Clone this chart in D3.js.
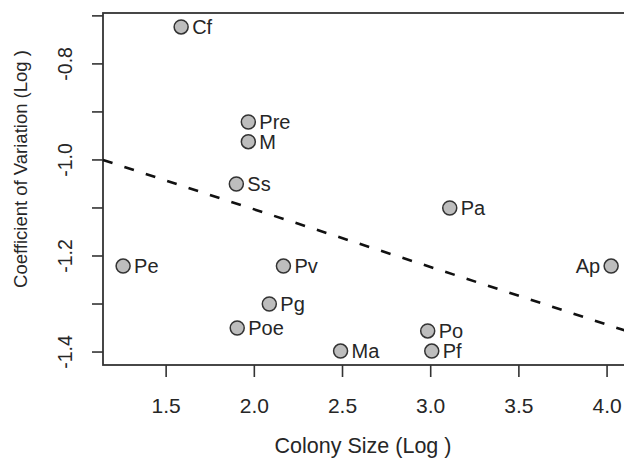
<!DOCTYPE html>
<html>
<head>
<meta charset="utf-8">
<script src="https://cdn.jsdelivr.net/npm/d3@7"></script>
<style>
  body { margin: 0; background: #fff; }
  text { font-family: "Liberation Sans", Arial, sans-serif; fill: #262626; }
</style>
</head>
<body>
<svg id="chart"></svg>
<script>
// species codes, log colony size, log coefficient of variation
const species    = ["Cf", "Pre", "M", "Ss", "Pe", "Pv", "Pg", "Poe", "Pa", "Ap", "Po", "Pf", "Ma"];
const colonySize = [1.585, 1.966, 1.966, 1.898, 1.256, 2.165, 2.085, 1.903, 3.108, 4.023, 2.983, 3.006, 2.489];
const cvLog      = [-0.723, -0.921, -0.962, -1.050, -1.221, -1.221, -1.300, -1.350, -1.100, -1.221, -1.356, -1.398, -1.398];
const labelLeft  = ["Ap"]; // labels placed on the left of the point

// fitted line (dashed)
const fitIntercept = -0.863;
const fitSlope = -0.12;

const xTicks = [1.5, 2.0, 2.5, 3.0, 3.5, 4.0];
const yTicks = [-1.4, -1.3, -1.2, -1.1, -1.0, -0.9, -0.8, -0.7];
const yTickLabels = [-1.4, -1.2, -1.0, -0.8];

const width = 624, height = 462;
const svg = d3.select("#chart").attr("width", width).attr("height", height);

// plot region runs off the right edge of the picture
const x = d3.scaleLinear().domain([1.142, 4.13]).range([103, 630]);
const y = d3.scaleLinear().domain([-1.427, -0.694]).range([365, 13]);

const axisColor = "#333";

// frame
svg.append("rect")
  .attr("x", x.range()[0]).attr("y", y.range()[1])
  .attr("width", x.range()[1] - x.range()[0])
  .attr("height", y.range()[0] - y.range()[1])
  .attr("fill", "none").attr("stroke", axisColor).attr("stroke-width", 1.8);

// x axis ticks + labels
const xAxis = svg.append("g");
xAxis.selectAll("line").data(xTicks).enter().append("line")
  .attr("x1", d => x(d)).attr("x2", d => x(d))
  .attr("y1", y.range()[0]).attr("y2", y.range()[0] + 12)
  .attr("stroke", axisColor).attr("stroke-width", 1.6);
xAxis.selectAll("text").data(xTicks).enter().append("text")
  .attr("x", d => x(d)).attr("y", 413)
  .attr("text-anchor", "middle").style("font-size", "21px")
  .text(d => d.toFixed(1));

// y axis ticks + labels
const yAxis = svg.append("g");
yAxis.selectAll("line").data(yTicks).enter().append("line")
  .attr("x1", x.range()[0] - 11).attr("x2", x.range()[0])
  .attr("y1", d => y(d)).attr("y2", d => y(d))
  .attr("stroke", axisColor).attr("stroke-width", 1.6);
yAxis.selectAll("text").data(yTickLabels).enter().append("text")
  .attr("transform", d => `translate(72, ${y(d)}) rotate(-90)`)
  .attr("text-anchor", "middle").style("font-size", "19.5px")
  .text(d => d.toFixed(1));

// axis titles
svg.append("text")
  .attr("x", 363).attr("y", 453)
  .attr("text-anchor", "middle").style("font-size", "21.5px")
  .text("Colony Size (Log )");
svg.append("text")
  .attr("transform", "translate(27, 169) rotate(-90)")
  .attr("text-anchor", "middle").style("font-size", "18.5px")
  .text("Coefficient of Variation (Log )");

// dashed fit line
const fitX = x.domain();
svg.append("line")
  .attr("x1", x(fitX[0])).attr("y1", y(fitIntercept + fitSlope * fitX[0]))
  .attr("x2", x(fitX[1])).attr("y2", y(fitIntercept + fitSlope * fitX[1]))
  .attr("stroke", "#111").attr("stroke-width", 2.6)
  .attr("stroke-dasharray", "10,12.5");

// points
const pts = species.map((s, i) => ({ s, cx: colonySize[i], cy: cvLog[i] }));
svg.append("g").selectAll("circle").data(pts).enter().append("circle")
  .attr("cx", d => x(d.cx)).attr("cy", d => y(d.cy)).attr("r", 7)
  .attr("fill", "#bdbdbd").attr("stroke", "#333").attr("stroke-width", 1.5);

svg.append("g").selectAll("text").data(pts).enter().append("text")
  .attr("x", d => labelLeft.includes(d.s) ? x(d.cx) - 11 : x(d.cx) + 11)
  .attr("y", d => y(d.cy))
  .attr("dy", "0.36em")
  .attr("text-anchor", d => labelLeft.includes(d.s) ? "end" : "start")
  .style("font-size", "20px")
  .text(d => d.s);
</script>
</body>
</html>
